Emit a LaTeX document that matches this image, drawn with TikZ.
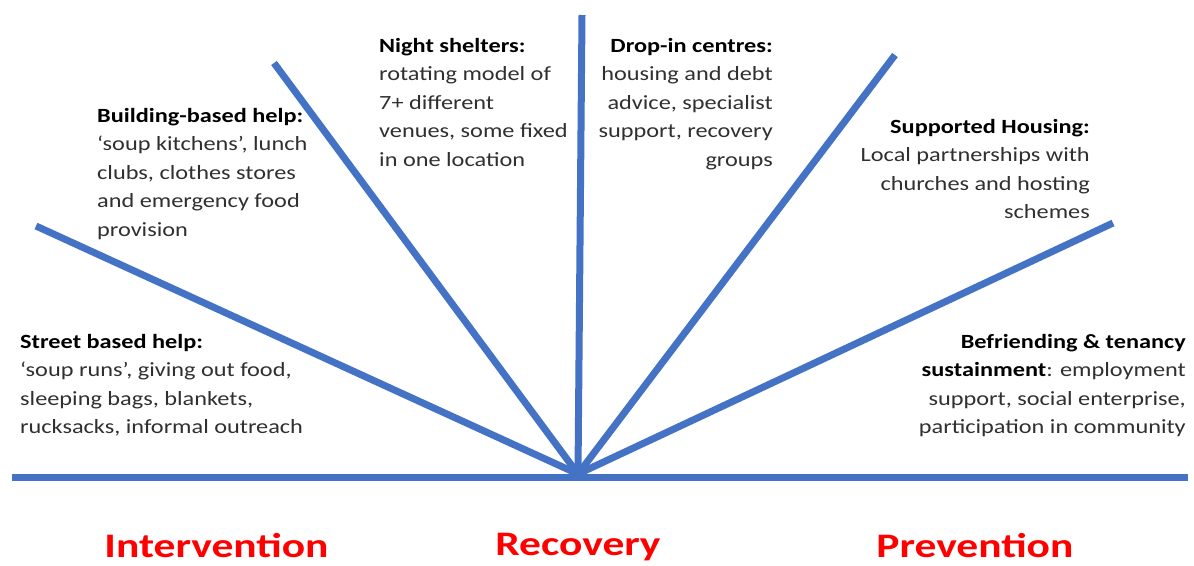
\documentclass[tikz,border=0pt]{standalone}
\usepackage{fontspec}
\setmainfont{Carlito}
\definecolor{rayblue}{HTML}{4472C4}
\definecolor{labred}{HTML}{FF0000}
\definecolor{txt}{HTML}{303030}
\newcommand{\hd}[1]{\textbf{\color{black}#1}}
\begin{document}
\begin{tikzpicture}[x=1pt,y=-1pt,
  ray/.style={draw=rayblue,line width=7pt},
  desc/.style={inner sep=0pt,font=\fontsize{24.3}{34.3}\selectfont,text=txt,yscale=0.83,transform shape},
  phase/.style={text=labred,font=\fontsize{43.5}{50}\selectfont\bfseries,inner sep=0pt,anchor=base,yscale=0.79,transform shape}]
\useasboundingbox (0,0) rectangle (1194,565);
\fill[white] (0,0) rectangle (1194,565);
\coordinate (hub) at (578,474);
\coordinate (axL) at (12,477);
\coordinate (axR) at (1188,477);
\coordinate (r1) at (36,226);
\coordinate (r2) at (274,63);
\coordinate (r3) at (582,15);
\coordinate (r4) at (895,55);
\coordinate (r5) at (1113,223);
\draw[ray] (axL) -- (axR);
\foreach \r in {r1,r2,r3,r4,r5} \draw[ray] (hub) -- (\r);
\node[desc,anchor=north west,align=left] (street) at (20,334) {\hd{Street based help:}\\‘soup runs’, giving out food,\\sleeping bags, blankets,\\rucksacks, informal outreach};
\node[desc,anchor=north west,align=left] (building) at (97,108) {\hd{Building-based help:}\\‘soup kitchens’, lunch\\clubs, clothes stores\\and emergency food\\provision};
\node[desc,anchor=north west,align=left] (night) at (379,38) {\hd{Night shelters:}\\rotating model of\\7+ different\\venues, some fixed\\in one location};
\node[desc,anchor=north east,align=right] (dropin) at (773,38) {\hd{Drop-in centres:}\\housing and debt\\advice, specialist\\support, recovery\\groups};
\node[desc,anchor=north east,align=right] (housing) at (1090,119) {\hd{Supported Housing:}\\Local partnerships with\\churches and hosting\\schemes};
\node[desc,anchor=north east,align=right] (befriend) at (1186,334) {\hd{Befriending \& tenancy}\\\hd{sustainment}: employment\\support, social enterprise,\\participation in community};
\node[phase] (interv) at (216.5,557) {Intervention};
\node[phase] (recov) at (578,555) {Recovery};
\node[phase] (prev) at (975,557) {Prevention};
\end{tikzpicture}
\end{document}
